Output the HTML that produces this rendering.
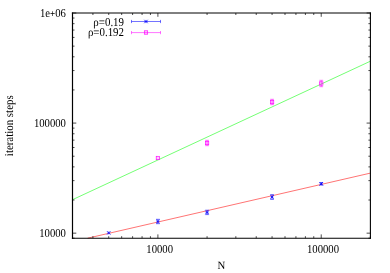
<!DOCTYPE html>
<html><head><meta charset="utf-8"><title>plot</title>
<style>
html,body{margin:0;padding:0;background:#fff;overflow:hidden}
svg{display:block;will-change:transform;transform:translateZ(0)}
text{text-rendering:geometricPrecision;font-family:"Liberation Serif",serif;font-size:10.9px;fill:#000}
</style></head><body>
<svg width="390" height="273" viewBox="0 0 390 273">
<rect width="390" height="273" fill="#fff"/>
<path d="M72.5 199.7 L370.4 61.2" stroke="#00ff00" stroke-width="0.55" fill="none"/>
<path d="M87.6 238.2 L370.4 173.1" stroke="#ff0000" stroke-width="0.55" fill="none"/>
<path d="M72.5 12.5 V238.75" stroke="#000" stroke-width="1.2" fill="none"/>
<path d="M370.4 12.5 V238.75" stroke="#000" stroke-width="1.1" fill="none"/>
<path d="M71.9 238.2 H370.95" stroke="#000" stroke-width="1.1" fill="none"/>
<path d="M71.9 13.0 H370.95" stroke="#000" stroke-width="1.0" fill="none"/>
<path d="M72.50 238.2 v-2.0 M72.50 13.0 v2.0 M92.91 238.2 v-2.0 M92.91 13.0 v2.0 M108.73 238.2 v-2.0 M108.73 13.0 v2.0 M121.67 238.2 v-2.0 M121.67 13.0 v2.0 M132.60 238.2 v-2.0 M132.60 13.0 v2.0 M142.07 238.2 v-2.0 M142.07 13.0 v2.0 M150.43 238.2 v-2.0 M150.43 13.0 v2.0 M157.90 238.2 v-3.8 M157.90 13.0 v3.8 M207.07 238.2 v-2.0 M207.07 13.0 v2.0 M235.83 238.2 v-2.0 M235.83 13.0 v2.0 M256.24 238.2 v-2.0 M256.24 13.0 v2.0 M272.07 238.2 v-2.0 M272.07 13.0 v2.0 M285.00 238.2 v-2.0 M285.00 13.0 v2.0 M295.93 238.2 v-2.0 M295.93 13.0 v2.0 M305.40 238.2 v-2.0 M305.40 13.0 v2.0 M313.76 238.2 v-2.0 M313.76 13.0 v2.0 M321.23 238.2 v-3.8 M321.23 13.0 v3.8 M370.40 238.2 v-2.0 M370.40 13.0 v2.0 M72.5 238.20 h2.0 M370.4 238.20 h-2.0 M72.5 233.16 h3.8 M370.4 233.16 h-3.8 M72.5 200.03 h2.0 M370.4 200.03 h-2.0 M72.5 180.64 h2.0 M370.4 180.64 h-2.0 M72.5 166.89 h2.0 M370.4 166.89 h-2.0 M72.5 156.22 h2.0 M370.4 156.22 h-2.0 M72.5 147.50 h2.0 M370.4 147.50 h-2.0 M72.5 140.13 h2.0 M370.4 140.13 h-2.0 M72.5 133.75 h2.0 M370.4 133.75 h-2.0 M72.5 128.12 h2.0 M370.4 128.12 h-2.0 M72.5 123.08 h3.8 M370.4 123.08 h-3.8 M72.5 89.94 h2.0 M370.4 89.94 h-2.0 M72.5 70.56 h2.0 M370.4 70.56 h-2.0 M72.5 56.81 h2.0 M370.4 56.81 h-2.0 M72.5 46.14 h2.0 M370.4 46.14 h-2.0 M72.5 37.42 h2.0 M370.4 37.42 h-2.0 M72.5 30.05 h2.0 M370.4 30.05 h-2.0 M72.5 23.67 h2.0 M370.4 23.67 h-2.0 M72.5 18.04 h2.0 M370.4 18.04 h-2.0 M72.5 13.00 h3.8 M370.4 13.00 h-3.8" stroke="#000" stroke-width="0.7" fill="none"/>
<text transform="translate(65.9 16.90) scale(0.98 1.1)" text-anchor="end">1e<tspan font-size="9.3" font-weight="bold">+</tspan>06</text>
<text transform="translate(65.9 126.98) scale(0.98 1.1)" text-anchor="end">100000</text>
<text transform="translate(65.9 237.06) scale(0.98 1.1)" text-anchor="end">10000</text>
<text transform="translate(159.70 253.4) scale(0.98 1.1)" text-anchor="middle">10000</text>
<text transform="translate(323.03 253.4) scale(0.98 1.1)" text-anchor="middle">100000</text>
<text transform="translate(221.3 269.1) scale(0.99 1.02)" text-anchor="middle">N</text>
<text transform="translate(12.9 125.75) rotate(-90) scale(1 1.1)" font-size="11" text-anchor="middle">iteration steps</text>
<text transform="translate(124 25.5) scale(1 1.1)" text-anchor="end">ρ=0.19</text>
<text transform="translate(124 36.3) scale(1 1.1)" text-anchor="end">ρ=0.192</text>
<path d="M131.5 21.5 H160.5 M131.5 19.9 v3.2 M160.5 19.9 v3.2" stroke="#0000ff" stroke-width="0.55" fill="none"/>
<path d="M144.3 19.8 L147.7 23.2 M144.3 23.2 L147.7 19.8" stroke="#0000ff" stroke-width="0.8" fill="none"/><path d="M144.3 21.5 H147.7 M146.0 19.8 V23.2" stroke="#0000ff" stroke-width="0.35" fill="none"/>
<path d="M131.5 32.6 H160.5 M131.5 31.0 v3.2 M160.5 31.0 v3.2" stroke="#ff00ff" stroke-width="0.55" fill="none"/>
<rect x="144.30" y="30.80" width="3.4" height="3.4" stroke="#ff00ff" stroke-width="0.65" fill="#ff00ff" fill-opacity="0.2"/>
<path d="M107.03 231.20000000000002 L110.43 234.6 M107.03 234.6 L110.43 231.20000000000002" stroke="#0000ff" stroke-width="0.8" fill="none"/><path d="M107.03 232.9 H110.43 M108.73 231.20000000000002 V234.6" stroke="#0000ff" stroke-width="0.35" fill="none"/>
<path d="M157.9 219.3 V223.7 M156.0 219.3 h3.8 M156.0 223.7 h3.8" stroke="#0000ff" stroke-width="0.55" fill="none"/>
<path d="M156.20000000000002 219.8 L159.6 223.2 M156.20000000000002 223.2 L159.6 219.8" stroke="#0000ff" stroke-width="0.8" fill="none"/><path d="M156.20000000000002 221.5 H159.6 M157.9 219.8 V223.2" stroke="#0000ff" stroke-width="0.35" fill="none"/>
<path d="M207.07 210.20000000000002 V214.6 M205.17 210.20000000000002 h3.8 M205.17 214.6 h3.8" stroke="#0000ff" stroke-width="0.55" fill="none"/>
<path d="M205.37 210.70000000000002 L208.76999999999998 214.1 M205.37 214.1 L208.76999999999998 210.70000000000002" stroke="#0000ff" stroke-width="0.8" fill="none"/><path d="M205.37 212.4 H208.76999999999998 M207.07 210.70000000000002 V214.1" stroke="#0000ff" stroke-width="0.35" fill="none"/>
<path d="M272.07 194.6 V199.4 M270.17 194.6 h3.8 M270.17 199.4 h3.8" stroke="#0000ff" stroke-width="0.55" fill="none"/>
<path d="M270.37 195.3 L273.77 198.7 M270.37 198.7 L273.77 195.3" stroke="#0000ff" stroke-width="0.8" fill="none"/><path d="M270.37 197.0 H273.77 M272.07 195.3 V198.7" stroke="#0000ff" stroke-width="0.35" fill="none"/>
<path d="M321.23 182.60000000000002 V185.0 M319.33000000000004 182.60000000000002 h3.8 M319.33000000000004 185.0 h3.8" stroke="#0000ff" stroke-width="0.55" fill="none"/>
<path d="M319.53000000000003 182.10000000000002 L322.93 185.5 M319.53000000000003 185.5 L322.93 182.10000000000002" stroke="#0000ff" stroke-width="0.8" fill="none"/><path d="M319.53000000000003 183.8 H322.93 M321.23 182.10000000000002 V185.5" stroke="#0000ff" stroke-width="0.35" fill="none"/>
<rect x="156.20" y="156.30" width="3.4" height="3.4" stroke="#ff00ff" stroke-width="0.65" fill="#ff00ff" fill-opacity="0.2"/>
<path d="M207.07 140.3 V145.7 M205.17 140.3 h3.8 M205.17 145.7 h3.8" stroke="#ff00ff" stroke-width="0.55" fill="none"/>
<rect x="205.37" y="141.30" width="3.4" height="3.4" stroke="#ff00ff" stroke-width="0.65" fill="#ff00ff" fill-opacity="0.2"/>
<path d="M272.07 99.3 V104.7 M270.17 99.3 h3.8 M270.17 104.7 h3.8" stroke="#ff00ff" stroke-width="0.55" fill="none"/>
<rect x="270.37" y="100.30" width="3.4" height="3.4" stroke="#ff00ff" stroke-width="0.65" fill="#ff00ff" fill-opacity="0.2"/>
<path d="M321.23 80.3 V86.7 M319.33000000000004 80.3 h3.8 M319.33000000000004 86.7 h3.8" stroke="#ff00ff" stroke-width="0.55" fill="none"/>
<rect x="319.53" y="81.80" width="3.4" height="3.4" stroke="#ff00ff" stroke-width="0.65" fill="#ff00ff" fill-opacity="0.2"/>
</svg></body></html>
